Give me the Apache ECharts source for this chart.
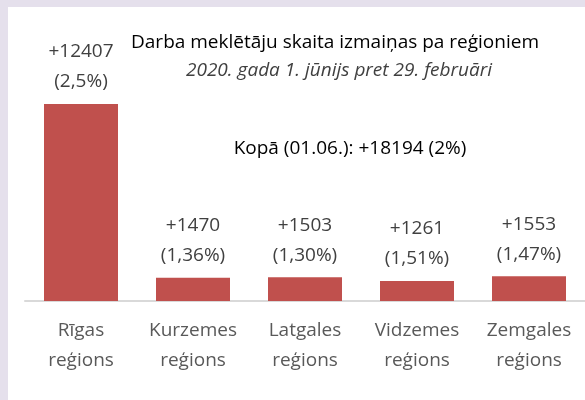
<!DOCTYPE html>
<html>
<head>
<meta charset="utf-8">
<script src="https://cdn.jsdelivr.net/npm/echarts@6/dist/echarts.min.js"></script>
<style>
  html, body { margin: 0; padding: 0; }
  body { width: 585px; height: 400px; background: #E5E0EC; position: relative; overflow: hidden; }
  #chart { position: absolute; left: 8px; top: 7px; width: 577px; height: 393px; background: #fff; }
</style>
</head>
<body>
<div id="chart"></div>
<script>
// reģioni
const regions = ['Rīgas\nreģions', 'Kurzemes\nreģions', 'Latgales\nreģions', 'Vidzemes\nreģions', 'Zemgales\nreģions'];
// izmaiņas (01.06. pret 29.02.)
const changes = [12407, 1470, 1503, 1261, 1553];
const changePct = ['2,5%', '1,36%', '1,30%', '1,51%', '1,47%'];

const titleText = 'Darba meklētāju skaita izmaiņas pa reģioniem';
const subtitleText = '2020. gada 1. jūnijs pret 29. februāri';
const totalText = 'Kopā (01.06.): +18194 (2%)';

const fontFamily = '"Open Sans", "Noto Sans", sans-serif';

const chart = echarts.init(document.getElementById('chart'));

const option = {
  animation: false,
  textStyle: { fontFamily },
  grid: { left: 17, right: -3, top: 97, bottom: 99 },
  graphic: [
    {
      type: 'text', x: 327, y: 36,
      style: { text: titleText, fill: '#000', font: '19px ' + fontFamily, align: 'center', verticalAlign: 'middle' }
    },
    {
      type: 'text', x: 331, y: 64,
      style: { text: subtitleText, fill: '#404040', font: 'italic 19px ' + fontFamily, align: 'center', verticalAlign: 'middle' }
    },
    {
      type: 'text', x: 342, y: 142,
      style: { text: totalText, fill: '#000', font: '19px ' + fontFamily, align: 'center', verticalAlign: 'middle' }
    }
  ],
  xAxis: {
    type: 'category',
    data: regions,
    axisLine: { lineStyle: { color: '#D9D9D9', width: 2 } },
    axisTick: { show: false },
    axisLabel: {
      color: '#595959',
      fontSize: 19,
      lineHeight: 30,
      margin: 15,
      interval: 0
    }
  },
  yAxis: {
    type: 'value',
    min: 0,
    max: 12407,
    show: false,
    splitLine: { show: false }
  },
  series: [
    {
      type: 'bar',
      data: changes,
      barWidth: 74,
      itemStyle: { color: '#C0504D' },
      label: {
        show: true,
        position: 'top',
        distance: 7,
        color: '#404040',
        fontSize: 19,
        lineHeight: 30,
        formatter: (p) => '+' + p.value + '\n(' + changePct[p.dataIndex] + ')'
      }
    }
  ]
};

chart.setOption(option);
</script>
</body>
</html>
